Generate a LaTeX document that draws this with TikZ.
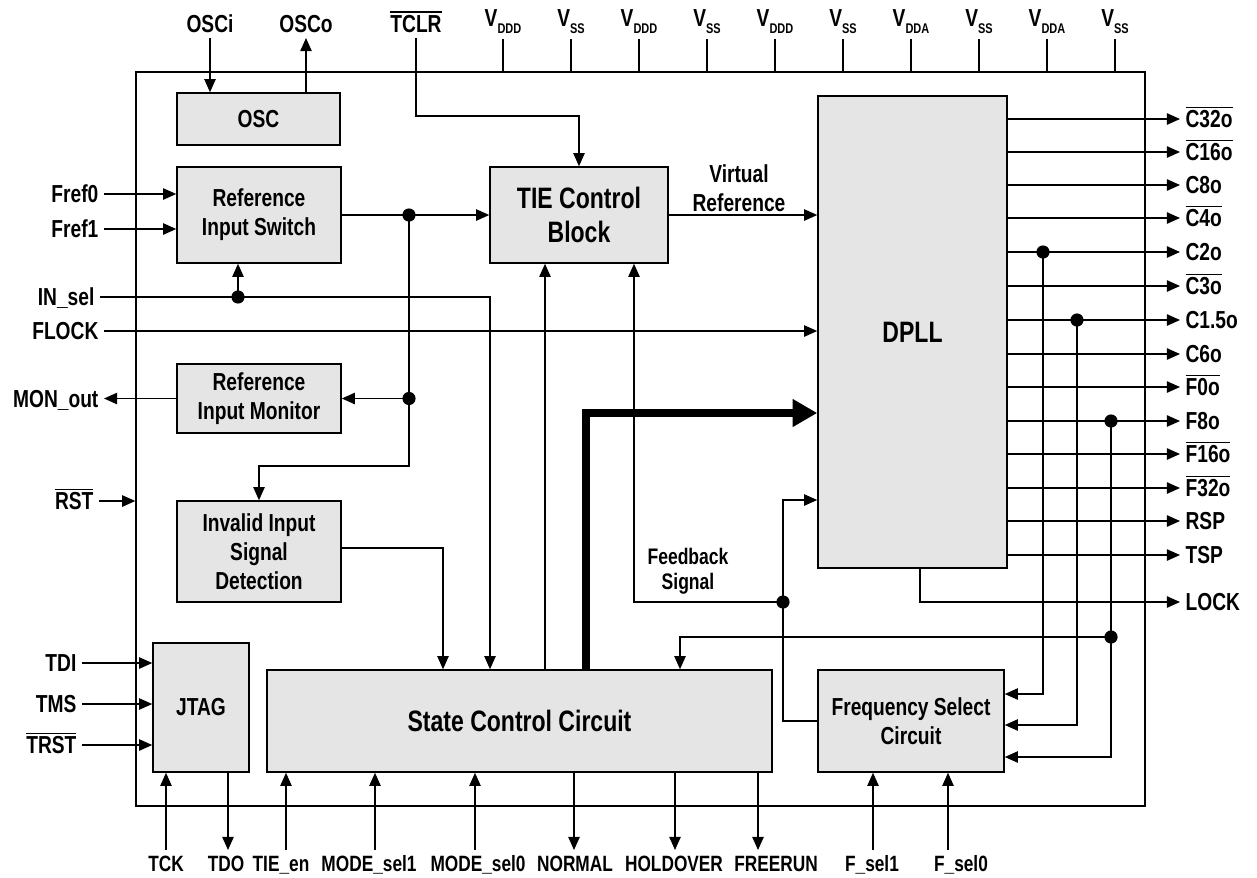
\documentclass[tikz,border=0pt]{standalone}
\usepackage{fontspec}
\setmainfont{Liberation Sans}[FakeStretch=0.78]
\usetikzlibrary{arrows.meta}

\newcommand{\ovl}[1]{\leavevmode\vbox{\hrule height 0.9pt\kern1.3pt\hbox{#1}}}
\newcommand{\pwr}[1]{V\raisebox{-4pt}{\fontsize{8}{8}\selectfont #1}}

\tikzset{
  blk/.style={draw, line width=0.9pt, fill=gray!20, align=center, inner sep=0pt,
    font=\bfseries\fontsize{14}{16.5}\selectfont},
  bigblk/.style={blk, font=\bfseries\fontsize{16.8}{19}\selectfont},
  pin/.style={inner sep=3pt, text height=10pt, text depth=0pt,
    font=\bfseries\fontsize{14}{15}\selectfont},
  botpin/.style={pin, anchor=north, text height=9pt, font=\bfseries\fontsize{12.6}{14}\selectfont},
  lbl/.style={align=center, inner sep=0pt, font=\bfseries\fontsize{14}{16.5}\selectfont},
  wire/.style={line width=0.8pt},
  sig/.style={wire, -{Triangle[length=7.5pt,width=6.5pt]}},
  dot/.style={circle, fill, inner sep=0pt, minimum size=7.5pt},
}

\begin{document}
\begin{tikzpicture}[x=0.02cm, y=-0.02cm]
  \useasboundingbox (0,0) rectangle (1257,877);

  % device outline and blocks
  \node[draw, line width=0.9pt, inner sep=0pt, minimum width=20.18cm, minimum height=14.68cm] (chip) at (640.5,439) {};
  \node[blk, minimum width=3.26cm, minimum height=1.04cm] (osc) at (258.5,119) {OSC};
  \node[blk, minimum width=3.28cm, minimum height=1.92cm] (ris) at (259,215) {Reference\\Input Switch};
  \node[blk, minimum width=3.28cm, minimum height=1.38cm] (rim) at (259,398.5) {Reference\\Input Monitor};
  \node[blk, minimum width=3.28cm, minimum height=2.02cm] (iisd) at (259,551.5) {Invalid Input\\Signal\\Detection};
  \node[bigblk, minimum width=3.56cm, minimum height=1.92cm] (tie) at (579,215) {TIE Control\\Block};
  \node[bigblk, minimum width=3.78cm, minimum height=9.44cm] (dpll) at (912.5,332) {DPLL};
  \node[blk, minimum width=1.92cm, minimum height=2.58cm] (jtag) at (201,707.5) {JTAG};
  \node[bigblk, minimum width=10.1cm, minimum height=2.04cm] (scc) at (519.5,721) {State Control Circuit};
  \node[blk, minimum width=3.72cm, minimum height=2.04cm] (fsc) at (911,721) {Frequency Select\\Circuit};

  % top pins
  \node[pin, anchor=south] (osci) at (210,38) {OSCi};
  \node[pin, anchor=south] (osco) at (306,38) {OSCo};
  \node[pin, anchor=south] (tclr) at (416,38) {\ovl{TCLR}};
  \draw[sig] (osci.south) -- (osc.north -| osci.south);
  \draw[sig] (osc.north -| osco.south) -- (osco.south);
  \draw[sig] (tclr.south) |- (579,116) -- (tie.north);
  \foreach \x/\s [count=\i] in {503/DDD,571/SS,639/DDD,707/SS,775/DDD,843/SS,911/DDA,979/SS,1047/DDA,1115/SS} {
    \node[pin, anchor=south] (v\i) at (\x,32.5) {\pwr{\s}};
    \draw[wire] (v\i.south) ++(0,6) -- (chip.north -| v\i.south);
  }

  % left pins
  \node[pin, anchor=east] (fref0) at (104,194) {Fref0};
  \node[pin, anchor=east] (fref1) at (104,229) {Fref1};
  \node[pin, anchor=east] (insel) at (100,297) {IN\_sel};
  \node[pin, anchor=east] (flock) at (104,331) {FLOCK};
  \node[pin, anchor=east] (monout) at (104,398.5) {MON\_out};
  \node[pin, anchor=east] (rst) at (99,501) {\ovl{RST}};
  \node[pin, anchor=east] (tdi) at (82,663) {TDI};
  \node[pin, anchor=east] (tms) at (82,704) {TMS};
  \node[pin, anchor=east] (trst) at (82,745) {\ovl{TRST}};
  \draw[sig] (fref0) -- (ris.west |- fref0);
  \draw[sig] (fref1) -- (ris.west |- fref1);
  \draw[sig] (flock) -- (dpll.west |- flock);
  \draw[sig] (rim) -- (monout);
  \draw[sig] (rst) -- (chip.west |- rst);
  \draw[sig] (tdi) -- (jtag.west |- tdi);
  \draw[sig] (tms) -- (jtag.west |- tms);
  \draw[sig] (trst) -- (jtag.west |- trst);

  % reference path
  \node[dot] (j1) at (238,297) {};
  \node[dot] (j2) at (409,215) {};
  \node[dot] (j3) at (j2 |- rim) {};
  \draw[sig] (insel) -| (scc.north -| 490,0);
  \draw[sig] (j1.center) -- (ris.south -| j1);
  \draw[sig] (ris) -- (tie);
  \draw[wire] (j2.center) -- (j3.center);
  \draw[sig] (j3.center) -- (rim);
  \draw[sig] (j3.center) |- (iisd.north |- 0,466) -- (iisd.north);
  \draw[sig] (iisd.east |- 0,548) -| (scc.north -| 443,0);
  \draw[sig] (scc.north -| 545,0) -- (tie.south -| 545,0);
  \draw[line width=4pt, -{Triangle[length=14pt,width=15pt]}] (scc.north -| 586,0) |- (dpll.west |- 0,413);

  % DPLL inputs
  \node[lbl] (vref) at (739,188) {Virtual\\Reference};
  \draw[sig] (tie) -- (dpll.west |- tie);
  \node[lbl, font=\bfseries\fontsize{12.8}{14.5}\selectfont] (fbk) at (688,571) {Feedback\\Signal};
  \node[dot] (j4) at (783,602) {};
  \draw[sig] (fsc.west) -| (j4 |- 0,500) -- (dpll.west |- 0,500);
  \draw[sig] (j4.center) -| (tie.south -| 634,0);

  % outputs
  \foreach \y/\txt/\nm in {119/{\ovl{C32o}}/c32o, 152/{\ovl{C16o}}/c16o, 185/C8o/c8o,
      218/{\ovl{C4o}}/c4o, 252/C2o/c2o, 286/{\ovl{C3o}}/c3o, 320/C1.5o/c15o, 354/C6o/c6o,
      387/{\ovl{F0o}}/f0o, 421/F8o/f8o, 454/{\ovl{F16o}}/f16o, 488/{\ovl{F32o}}/f32o,
      521/RSP/rsp, 555/TSP/tsp} {
    \node[pin, anchor=west] (\nm) at (1180,\y) {\txt};
    \draw[sig] (dpll.east |- \nm.west) -- (\nm.west);
  }
  \node[pin, anchor=west] (lock) at (1180,602) {LOCK};
  \draw[sig] (dpll.south -| 920,0) |- (lock.west);

  % frequency select taps
  \node[dot] (t1) at (c2o -| 1043,0) {};
  \node[dot] (t2) at (c15o -| 1077,0) {};
  \node[dot] (t3) at (f8o -| 1111,0) {};
  \node[dot] (t4) at (t3 |- 0,637) {};
  \draw[sig] (t1.center) |- (fsc.east |- 0,694);
  \draw[sig] (t2.center) |- (fsc.east |- 0,725);
  \draw[sig] (t3.center) |- (fsc.east |- 0,757);
  \draw[sig] (t4.center) -| (scc.north -| 680,0);

  % bottom pins
  \node[botpin] (tck) at (166,850) {TCK};
  \node[botpin] (tdo) at (226,850) {TDO};
  \node[botpin] (tieen) at (281,850) {TIE\_en};
  \node[botpin] (msel1) at (369,850) {MODE\_sel1};
  \node[botpin] (msel0) at (478,850) {MODE\_sel0};
  \node[botpin] (normal) at (575,850) {NORMAL};
  \node[botpin] (hold) at (674,850) {HOLDOVER};
  \node[botpin] (free) at (776,850) {FREERUN};
  \node[botpin] (fsel1) at (872,850) {F\_sel1};
  \node[botpin] (fsel0) at (961,850) {F\_sel0};
  \draw[sig] (tck.north) -- (jtag.south -| tck.north);
  \draw[sig] (jtag.south -| 228,0) -- (tdo.north -| 228,0);
  \draw[sig] (tieen.north -| 286,0) -- (scc.south -| 286,0);
  \draw[sig] (msel1.north -| 375,0) -- (scc.south -| 375,0);
  \draw[sig] (msel0.north -| 475,0) -- (scc.south -| 475,0);
  \draw[sig] (scc.south -| 574,0) -- (normal.north -| 574,0);
  \draw[sig] (scc.south -| 675,0) -- (hold.north -| 675,0);
  \draw[sig] (scc.south -| 758,0) -- (free.north -| 758,0);
  \draw[sig] (fsel1.north -| 873,0) -- (fsc.south -| 873,0);
  \draw[sig] (fsel0.north -| 948,0) -- (fsc.south -| 948,0);
\end{tikzpicture}
\end{document}
